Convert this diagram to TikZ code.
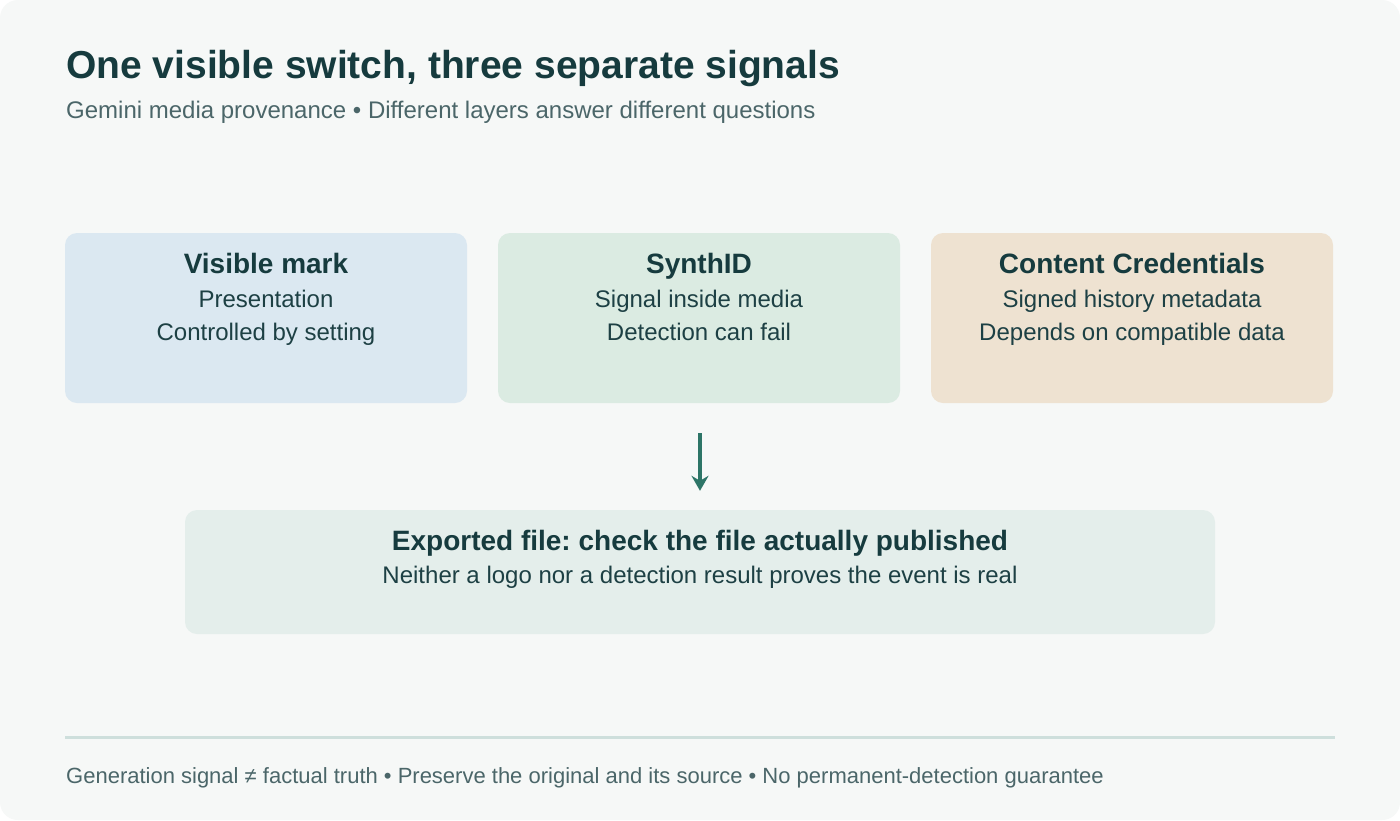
\documentclass[tikz,border=0pt]{standalone}
\usepackage{fontspec}
\setmainfont{Liberation Sans}
\usetikzlibrary{arrows.meta}
\frenchspacing
\definecolor{bgc}{HTML}{F6F8F7}
\definecolor{titlec}{HTML}{163B3E}
\definecolor{subc}{HTML}{4B6669}
\definecolor{bodyc}{HTML}{1D4044}
\definecolor{boxa}{HTML}{DBE8F1}
\definecolor{boxb}{HTML}{DBEBE2}
\definecolor{boxc}{HTML}{EEE2D1}
\definecolor{boxd}{HTML}{E4EEEB}
\definecolor{arrowc}{HTML}{2D7567}
\definecolor{sepc}{HTML}{CEDFDC}
\tikzset{
  card/.style={draw=none, rounded corners=12pt, inner sep=0pt, minimum width=402pt, minimum height=170pt},
  cardhead/.style={anchor=base, text=titlec, font=\fontsize{28}{33}\selectfont\bfseries},
  cardbody/.style={anchor=base, text=bodyc, font=\fontsize{24}{29}\selectfont},
  flow/.style={draw=arrowc, line width=3.5pt, -{Stealth[length=15pt,width=17pt,inset=5pt]}},
}
\begin{document}
\begin{tikzpicture}[x=1pt,y=-1pt]
\useasboundingbox (0,0) rectangle (1400,820);
\fill[white] (0,0) rectangle (1400,820);
\fill[bgc, rounded corners=18pt] (0,0) rectangle (1400,820);

\node[anchor=base west, text=titlec, inner sep=0pt, font=\fontsize{39}{46}\selectfont\bfseries] (title) at (66,78) {One visible switch, three separate signals};
\node[anchor=base west, text=subc, inner sep=0pt, font=\fontsize{24}{29}\selectfont] (subtitle) at (66,118) {Gemini media provenance • Different layers answer different questions};

\node[card, fill=boxa] (b1) at (266,318) {};
\node[card, fill=boxb] (b2) at (699,318) {};
\node[card, fill=boxc] (b3) at (1132,318) {};
\node[card, fill=boxd, minimum width=1030pt, minimum height=124pt] (b4) at (700,572) {};

\node[cardhead] (h1) at (266,273) {Visible mark};
\node[cardbody] (l1a) at (266,307) {Presentation};
\node[cardbody] (l1b) at (266,340) {Controlled by setting};

\node[cardhead] (h2) at (699,273) {SynthID};
\node[cardbody] (l2a) at (699,307) {Signal inside media};
\node[cardbody] (l2b) at (699,340) {Detection can fail};

\node[cardhead] (h3) at (1132,273) {Content Credentials};
\node[cardbody] (l3a) at (1132,307) {Signed history metadata};
\node[cardbody] (l3b) at (1132,340) {Depends on compatible data};

\node[cardhead] (h4) at (700,550) {Exported file: check the file actually published};
\node[cardbody] (l4a) at (700,583) {Neither a logo nor a detection result proves the event is real};

\draw[flow] ([xshift=1pt,yshift=-30pt]b2.south) -- ([yshift=19pt]b4.north);

\draw[sepc, line width=3pt] (65,737.5) -- (1335,737.5);

\node[anchor=base west, text=subc, inner sep=0pt, font=\fontsize{22}{27}\selectfont] (footer) at (66,783) {Generation signal ≠ factual truth • Preserve the original and its source • No permanent-detection guarantee};
\end{tikzpicture}
\end{document}
